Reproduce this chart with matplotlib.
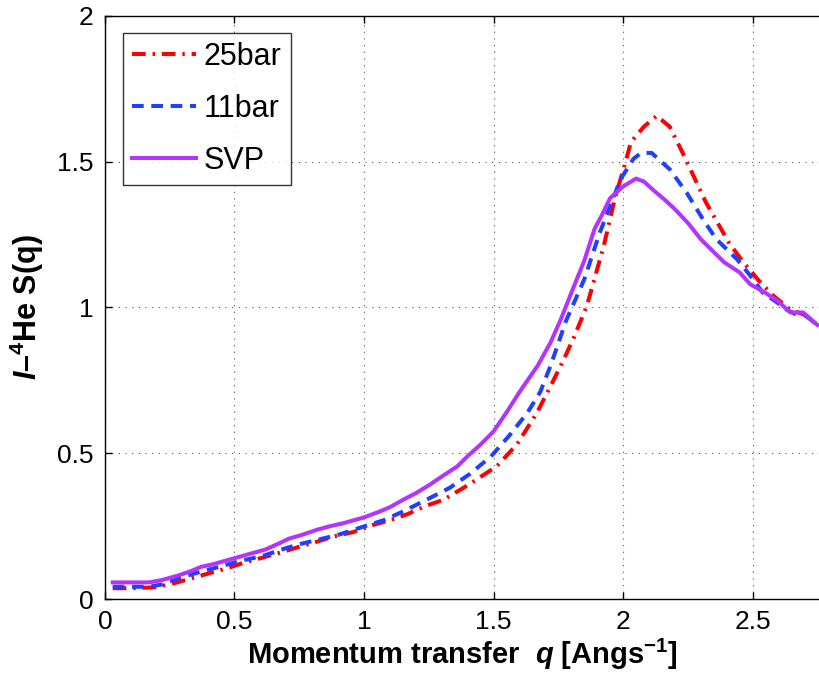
import matplotlib
matplotlib.use("Agg")
import matplotlib.pyplot as plt

plt.rcParams['font.family'] = ['Liberation Sans', 'DejaVu Sans']
plt.rcParams['mathtext.fontset'] = 'custom'
plt.rcParams['mathtext.rm'] = 'Liberation Sans:bold'
plt.rcParams['mathtext.it'] = 'Liberation Sans:italic:bold'
plt.rcParams['mathtext.bf'] = 'Liberation Sans:bold'

q_svp = [0.03, 0.1, 0.17, 0.22, 0.28, 0.33, 0.37, 0.42, 0.5, 0.56, 0.62, 0.67, 0.71, 0.76, 0.82, 0.87,
         0.92, 0.96, 1.0, 1.06, 1.1, 1.15, 1.2, 1.25, 1.3, 1.36, 1.4, 1.45, 1.5, 1.55, 1.6, 1.67, 1.72,
         1.76, 1.8, 1.85, 1.89, 1.92, 1.95, 2.0, 2.05, 2.08, 2.12, 2.16, 2.2, 2.25, 2.3, 2.35, 2.39,
         2.45, 2.49, 2.55, 2.6, 2.645, 2.695, 2.75]
s_svp = [0.057, 0.057, 0.057, 0.065, 0.08, 0.095, 0.11, 0.12, 0.14, 0.155, 0.17, 0.19, 0.207, 0.22,
         0.238, 0.25, 0.26, 0.27, 0.28, 0.30, 0.315, 0.34, 0.363, 0.39, 0.42, 0.455, 0.49, 0.53, 0.575,
         0.64, 0.71, 0.80, 0.88, 0.96, 1.05, 1.16, 1.27, 1.32, 1.375, 1.415, 1.442, 1.432, 1.40, 1.37,
         1.337, 1.29, 1.234, 1.19, 1.155, 1.12, 1.08, 1.05, 1.02, 0.983, 0.983, 0.94]

q_11 = [0.03, 0.1, 0.17, 0.22, 0.28, 0.37, 0.44, 0.51, 0.57, 0.62, 0.7, 0.76, 0.82, 0.9, 1.0, 1.075,
        1.15, 1.24, 1.33, 1.41, 1.49, 1.56, 1.63, 1.68, 1.72, 1.78, 1.85, 1.91, 1.96, 1.99, 2.04, 2.07,
        2.11, 2.18, 2.245, 2.31, 2.36, 2.44, 2.49, 2.54, 2.59, 2.63, 2.67, 2.7, 2.75]
s_11 = [0.042, 0.042, 0.042, 0.05, 0.07, 0.094, 0.11, 0.128, 0.14, 0.151, 0.175, 0.19, 0.203, 0.22,
        0.249, 0.27, 0.30, 0.34, 0.381, 0.43, 0.489, 0.56, 0.638, 0.71, 0.80, 0.955, 1.096, 1.257,
        1.37, 1.44, 1.51, 1.53, 1.53, 1.474, 1.394, 1.30, 1.234, 1.165, 1.11, 1.05, 1.02, 0.993,
        0.975, 0.975, 0.94]

q_25 = [0.03, 0.1, 0.19, 0.25, 0.31, 0.405, 0.47, 0.534, 0.6, 0.68, 0.753, 0.82, 0.881, 0.96, 1.035,
        1.1, 1.165, 1.24, 1.306, 1.4, 1.512, 1.59, 1.667, 1.72, 1.77, 1.81, 1.86, 1.925, 1.97, 2.01,
        2.03, 2.08, 2.13, 2.18, 2.23, 2.32, 2.41, 2.46, 2.52, 2.58, 2.645, 2.7, 2.75]
s_25 = [0.037, 0.037, 0.04, 0.05, 0.065, 0.089, 0.105, 0.124, 0.14, 0.16, 0.18, 0.197, 0.214, 0.23,
        0.254, 0.27, 0.29, 0.32, 0.34, 0.39, 0.455, 0.53, 0.638, 0.73, 0.82, 0.897, 1.005, 1.21, 1.38,
        1.50, 1.567, 1.62, 1.657, 1.62, 1.53, 1.36, 1.22, 1.16, 1.096, 1.04, 0.993, 0.975, 0.94]

labels = ['25bar', '11bar', 'SVP']
xticks = [0, 0.5, 1, 1.5, 2, 2.5]
xticklabels = ['0', '0.5', '1', '1.5', '2', '2.5']
yticks = [0, 0.5, 1, 1.5, 2]
yticklabels = ['0', '0.5', '1', '1.5', '2']

fig = plt.figure(figsize=(8.2, 6.86), dpi=100)
ax = fig.add_axes([0.128, 0.1268, 0.872, 0.85])

ax.plot(q_25, s_25, color='#ff0000', lw=2.9, linestyle=(0, (3.4, 1.7, 0.6, 1.7)), label=labels[0])
ax.plot(q_11, s_11, color='#2040ff', lw=2.9, linestyle=(0, (2.9, 1.9)), label=labels[1])
ax.plot(q_svp, s_svp, color='#b333ff', lw=2.9, linestyle='-', label=labels[2])

ax.set_xlim(0, 2.76)
ax.set_ylim(0, 2)
ax.set_xticks(xticks)
ax.set_xticklabels(xticklabels)
ax.set_yticks(yticks)
ax.set_yticklabels(yticklabels)
ax.tick_params(direction='in', length=5, width=1, labelsize=19, top=True, right=False, pad=8)
ax.grid(True, color='#555555', linestyle=(0, (1, 5)), linewidth=0.8)
for s in ax.spines.values():
    s.set_linewidth(1.0)
ax.spines['right'].set_visible(False)

ax.set_xlabel(r'Momentum transfer  $\mathit{q}$ [Angs$^{\mathrm{-1}}$]', fontsize=21, fontweight='bold', labelpad=2)
ax.set_ylabel(r'$\mathit{I}$–$^{\mathrm{4}}$He S(q)', fontsize=22, fontweight='bold', labelpad=8)

leg = ax.legend(loc='upper left', bbox_to_anchor=(0.025, 0.971), fontsize=22, frameon=True,
                fancybox=False, edgecolor='black', handlelength=2.1, handletextpad=0.25,
                borderpad=0.3, labelspacing=0.72, borderaxespad=0)
leg.get_frame().set_linewidth(1.0)

fig.savefig('out.png', dpi=100)
